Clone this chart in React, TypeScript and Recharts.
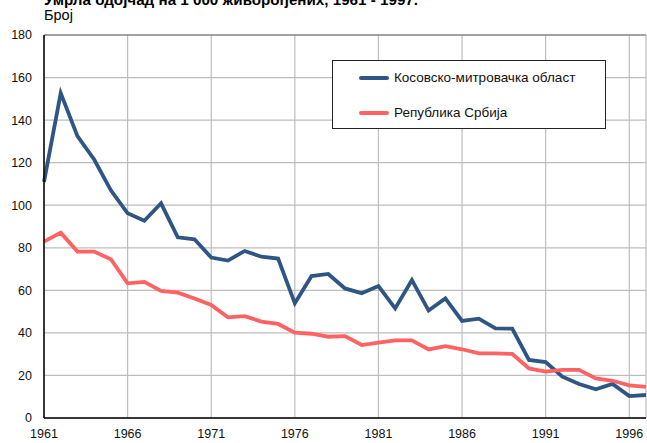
import React from 'react';
import { LineChart, Line, XAxis, YAxis, CartesianGrid, Legend, ReferenceLine } from 'recharts';

const years = [1961,1962,1963,1964,1965,1966,1967,1968,1969,1970,1971,1972,1973,1974,1975,1976,1977,1978,1979,1980,1981,1982,1983,1984,1985,1986,1987,1988,1989,1990,1991,1992,1993,1994,1995,1996,1997];
const kosovo = [111,152.7,132.5,121.5,107,96.2,92.7,100.9,84.9,84,75.4,74,78.5,75.8,74.9,53.9,66.7,67.7,60.9,58.6,62,51.5,64.8,50.5,56.2,45.6,46.7,42.1,42,27.3,26.3,19.4,16,13.5,16,10.3,10.8];
const serbia = [82.9,87.1,78.2,78.2,74.6,63.3,64,59.7,58.9,56.2,53.1,47.3,47.9,45.3,44.2,40.1,39.6,38.2,38.5,34.3,35.4,36.5,36.5,32.2,33.8,32.3,30.4,30.4,30.1,23.3,21.8,22.6,22.6,18.6,17.5,15.3,14.6];
const xTicks = [1961,1966,1971,1976,1981,1986,1991,1996];
const yTicks = [0,20,40,60,80,100,120,140,160,180];
const seriesNames = ['Косовско-митровачка област', 'Република Србија'];
const title = 'Умрла одојчад на 1 000 живорођених, 1961 - 1997.';
const yLabel = 'Број';

const data = years.map((y, i) => ({ year: y, kosovo: kosovo[i], serbia: serbia[i] }));

const FONT = '"Liberation Sans", Arial, sans-serif';

const LegendBox = (props: any) => {
  const payload = props.payload || [];
  return (
    <div style={{ width: 272, height: 67, border: '1px solid #222', background: '#fff', position: 'relative', fontFamily: FONT, fontSize: 13.5, color: '#111' }}>
      {payload.map((p: any, i: number) => (
        <div key={i} style={{ position: 'absolute', left: 26, top: i === 0 ? 8 : 43, height: 17, display: 'flex', alignItems: 'center' }}>
          <div style={{ width: 30, height: 4, borderRadius: 2, background: p.color, marginRight: 5 }} />
          <span style={{ whiteSpace: 'nowrap' }}>{p.value}</span>
        </div>
      ))}
    </div>
  );
};

export default function App() {
  return (
    <div style={{ position: 'absolute', left: 0, top: 0, width: 647, height: 443, background: '#fff', overflow: 'hidden' }}>
      <div style={{ position: 'absolute', left: 44, top: -7, fontFamily: FONT, fontSize: 15.2, fontWeight: 'bold', lineHeight: '14px', whiteSpace: 'nowrap', color: '#000' }}>{title}</div>
      <div style={{ position: 'absolute', left: 44, top: 9, fontFamily: FONT, fontSize: 14.5, lineHeight: '13px', color: '#000' }}>{yLabel}</div>
      <LineChart width={647} height={443} data={data} margin={{ top: 35, right: 1, bottom: 0, left: 0 }} style={{ position: 'absolute', left: 0, top: 0 }}>
        <CartesianGrid stroke="#bdbdbd" strokeWidth={1.2} horizontalValues={yTicks} verticalValues={xTicks} />
        <ReferenceLine x={1997} stroke="#c8c8c8" strokeWidth={1.5} />
        <ReferenceLine y={180} stroke="#666" strokeWidth={1.2} />
        <XAxis dataKey="year" type="number" domain={[1961, 1997]} ticks={xTicks} height={25} tickSize={0} tickMargin={11} axisLine={{ stroke: '#000', strokeWidth: 1.5 }} tick={{ fill: '#111', fontSize: 12.5, fontFamily: FONT }} interval={0} />
        <YAxis type="number" domain={[0, 180]} ticks={yTicks} width={44} tickSize={0} tickMargin={12} axisLine={{ stroke: '#000', strokeWidth: 1.5 }} tick={{ fill: '#111', fontSize: 12.5, fontFamily: FONT }} interval={0} />
        <Legend layout="horizontal" align="center" verticalAlign="middle" wrapperStyle={{ left: 332, top: 60, width: 274, height: 69 }} content={<LegendBox />} />
        <Line dataKey="kosovo" name={seriesNames[0]} stroke="#2f5585" strokeWidth={3.8} dot={false} isAnimationActive={false} strokeLinejoin="miter" />
        <Line dataKey="serbia" name={seriesNames[1]} stroke="#ff6262" strokeWidth={3.8} dot={false} isAnimationActive={false} strokeLinejoin="miter" />
      </LineChart>
    </div>
  );
}
